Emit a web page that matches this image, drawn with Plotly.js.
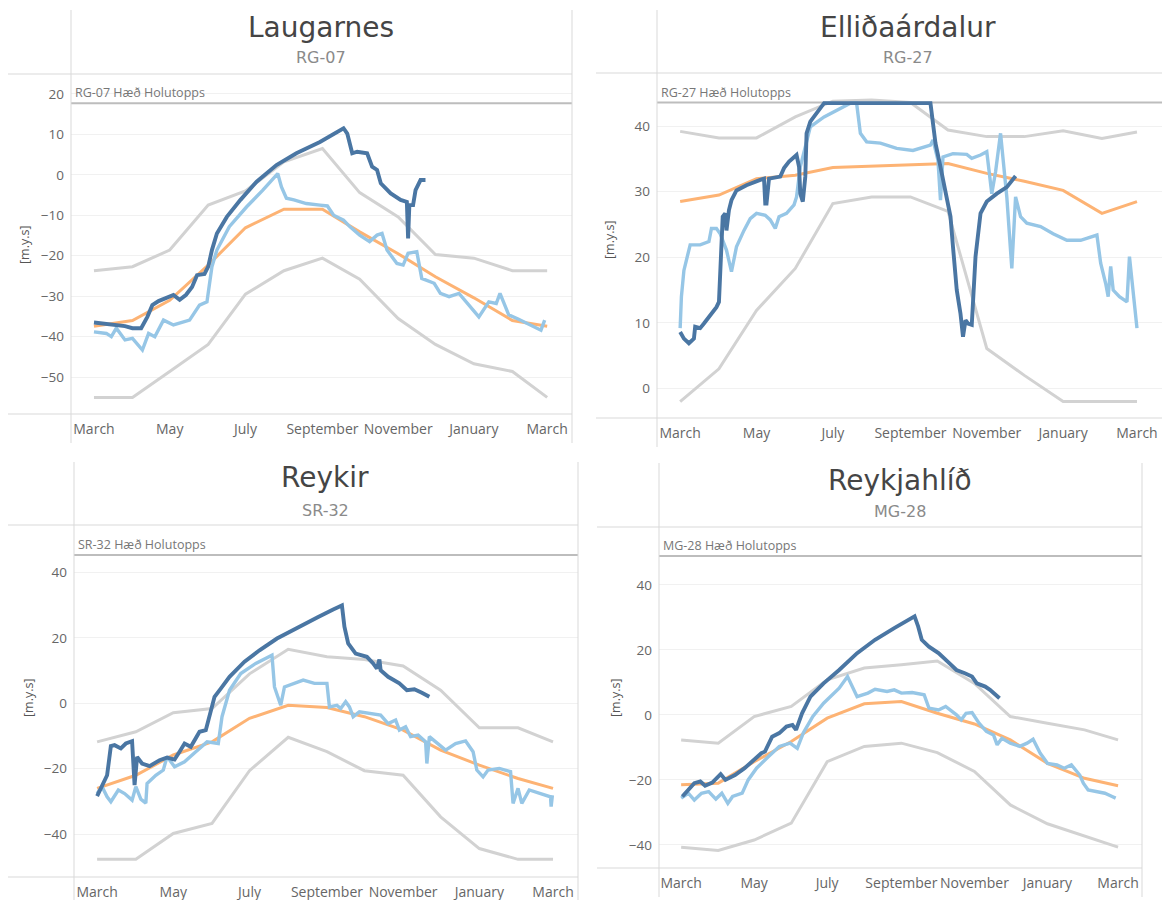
<!DOCTYPE html>
<html>
<head>
<meta charset="utf-8">
<script src="https://cdn.plot.ly/plotly-3.0.1.min.js"></script>
<style>
html,body{margin:0;padding:0;background:#fff;}
#chart{width:1162px;height:900px;}
</style>
</head>
<body>
<div id="chart"></div>
<script>
// ---------- DATA ----------
const stations = ['Laugarnes', 'Elliðaárdalur', 'Reykir', 'Reykjahlíð'];
const wells = ['RG-07', 'RG-27', 'SR-32', 'MG-28'];
const haed = [17.7, 43.6, 45.3, 48.9];           // Hæð Holutopps
const monthDays = [0, 31, 61, 92, 122, 153, 184, 214, 245, 275, 306, 337, 365]; // days since 1 March
const tickDays = [0, 61, 122, 184, 245, 306, 365];
const tickLabels = ['March', 'May', 'July', 'September', 'November', 'January', 'March'];

// Laugarnes RG-07
const max1 = [-23.7, -22.7, -18.6, -7.5, -4, 3.2, 6.5, -4.4, -10.4, -19.7, -20.6, -23.7, -23.7];
const min1 = [-55, -55, -48.6, -41.9, -29.5, -23.7, -20.6, -25.8, -35.5, -41.9, -46.7, -48.6, -55];
const mean1 = [-37.4, -36, -31, -22.3, -13.1, -8.5, -8.5, -14.1, -19.5, -25.2, -30.4, -36, -37.4];
const cur1Days = [0, 13, 25, 31, 38, 43, 47, 52, 59, 64, 69, 74, 79, 83, 89, 92, 95, 99, 107, 118, 131, 147, 163, 182, 201, 204, 208, 212, 220, 224, 228, 231, 239, 247, 252, 253, 254, 257, 259, 263, 267];
const cur1Vals = [-36.5, -36.9, -37.4, -37.9, -37.9, -35.1, -32.2, -31.2, -30.4, -29.7, -30.9, -29.7, -27.7, -24.8, -24.5, -22.7, -18.6, -14.5, -10.4, -6.2, -1.7, 2.4, 5.3, 8.1, 11.5, 10.2, 5.3, 5.7, 5.3, 2.0, 1.2, -2.1, -4.6, -6.2, -6.7, -15.7, -7.5, -7.5, -3.8, -1.3, -1.3];
const prev1Days = [0, 10, 14, 18, 25, 31, 39, 44, 49, 56, 64, 69, 77, 85, 91, 95, 99, 109, 123, 136, 148, 151, 155, 161, 171, 182, 188, 193, 201, 206, 214, 222, 228, 232, 236, 244, 249, 253, 260, 264, 274, 279, 286, 294, 301, 310, 318, 324, 327, 334, 342, 351, 360, 363];
const prev1Vals = [-38.8, -39.2, -40.0, -37.9, -40.8, -40.4, -43.3, -39.2, -40.0, -35.9, -37.1, -36.7, -35.9, -32.2, -31.4, -22.7, -18.6, -12.8, -7.9, -3.8, 0.3, -3.0, -5.8, -6.2, -7.1, -7.5, -7.7, -10.0, -11.2, -12.8, -14.9, -16.5, -14.9, -14.5, -18.6, -21.9, -22.3, -19.4, -19.0, -25.6, -26.8, -29.3, -30.1, -29.3, -31.9, -35.1, -31.4, -31.8, -29.3, -34.6, -35.7, -37.1, -38.4, -35.9];

// Elliðaárdalur RG-27
const max2 = [39.2, 38.2, 38.2, 41.4, 43.8, 44, 43.6, 39.4, 38.4, 38.4, 39.3, 38.1, 39.1];
const min2 = [-2.0, 3.0, 11.9, 18.3, 28.2, 29.2, 29.2, 27, 6.1, 2.0, -2.0, -2.0, -2.0];
const mean2 = [28.5, 29.5, 32.0, 32.5, 33.7, 33.9, 34.2, 34.3, 32.8, 31.6, 30.2, 26.7, 28.5];
const cur2Days = [0, 3, 7, 11, 12, 16, 19, 23, 29, 31, 32.5, 34, 36, 37, 39, 41, 45, 53, 64, 67, 68, 69, 71, 76, 80, 83, 87, 93, 95, 96, 98, 100, 101, 104, 109, 115, 200, 204, 208, 212, 216, 218, 221, 224, 226, 228, 230, 233, 234, 236, 240, 245, 253, 261, 268];
const cur2Vals = [8.6, 7.6, 6.9, 7.6, 9.4, 9.2, 9.9, 10.9, 12.4, 13.2, 20.1, 26.2, 26.7, 24.1, 27.2, 28.7, 30.2, 31.0, 31.8, 32.0, 28.2, 28.2, 32.0, 32.2, 32.3, 33.6, 34.6, 35.6, 33.8, 29.7, 28.5, 32.3, 38.9, 40.7, 42.0, 43.5, 43.5, 37.4, 33.8, 30.2, 26.2, 21.6, 15.0, 11.4, 7.9, 10.4, 9.9, 9.7, 14.0, 20.1, 26.7, 28.5, 29.7, 30.7, 32.4];
const prev2Days = [0, 1, 3, 5, 8, 16, 23, 25, 29, 32, 37, 41, 45, 51, 56, 61, 68, 72, 76, 79, 85, 91, 93, 96, 99, 104, 115, 125, 136, 141, 144, 149, 160, 173, 186, 200, 202, 206, 208, 210, 218, 229, 233, 240, 245, 249, 252, 256, 258, 261, 265, 268, 272, 277, 288, 298, 309, 320, 333, 336, 340, 342, 344, 346, 351, 357, 359, 362, 365];
const prev2Vals = [9.2, 14.0, 18.0, 19.6, 21.9, 21.9, 22.4, 24.4, 24.4, 23.6, 21.1, 17.8, 21.6, 24.1, 25.9, 26.7, 26.4, 25.7, 24.4, 26.2, 26.7, 28.0, 29.2, 33.8, 36.3, 39.9, 41.4, 42.4, 43.5, 43.5, 38.9, 37.6, 37.4, 36.6, 36.3, 37.1, 37.9, 34.8, 28.7, 35.3, 35.8, 35.7, 35.1, 35.6, 36.1, 29.7, 33.0, 38.9, 35.3, 29.2, 18.3, 29.2, 26.2, 25.2, 24.7, 23.6, 22.6, 22.6, 23.4, 19.1, 16.0, 14.0, 18.6, 15.0, 14.0, 13.2, 20.1, 14.0, 9.2];

// Reykir SR-32
const max3 = [-11.8, -8.7, -2.9, -1.6, 9, 16.5, 14.2, 13.4, 11.4, 4.0, -7.5, -7.5, -11.8];
const min3 = [-47.7, -47.7, -39.8, -36.7, -20.6, -10.4, -14.8, -20.6, -22.0, -34.7, -44.4, -47.7, -47.7];
const mean3 = [-26.0, -22.0, -15.8, -11.8, -4.6, -0.6, -1.3, -4.1, -8.2, -14.3, -18.9, -23.0, -26.0];
const cur3Days = [0, 4, 8, 11, 14, 19, 23, 28, 30, 32, 36, 42, 50, 56, 62, 66, 70, 75, 82, 87, 90, 93, 94, 99, 106, 118, 130, 144, 159, 177, 189, 196, 198, 201, 207, 216, 221, 224, 226, 227, 233, 242, 248, 254, 260, 266];
const cur3Vals = [-28.4, -25.5, -22.0, -13.1, -12.8, -13.8, -12.3, -11.6, -25.0, -16.4, -18.4, -19.2, -17.4, -16.6, -17.2, -14.8, -12.3, -13.3, -8.7, -8.2, -3.6, -0.1, 2.0, 4.5, 8.1, 12.7, 16.2, 19.8, 22.9, 26.4, 28.7, 29.9, 23.4, 18.3, 15.2, 14.2, 12.2, 10.6, 13.4, 10.1, 8.1, 6.1, 4.0, 4.3, 3.2, 2.0];
const prev3Days = [0, 4, 8, 11, 17, 22, 28, 31, 35, 39, 40, 47, 53, 56, 62, 70, 79, 88, 97, 100, 106, 115, 127, 140, 142, 147, 150, 159, 165, 174, 184, 186, 192, 195, 199, 202, 205, 210, 218, 227, 233, 239, 242, 247, 251, 257, 263, 264, 266, 273, 279, 287, 295, 301, 304, 309, 313, 322, 331, 333, 337, 340, 346, 355, 363, 363.5, 364.5];
const prev3Vals = [-27.6, -25.5, -28.6, -30.1, -26.5, -27.6, -29.6, -25.5, -29.3, -30.5, -24.5, -22.0, -20.4, -16.3, -19.4, -17.9, -14.8, -11.8, -12.3, -4.1, 4.0, 9.1, 12.2, 14.7, 5.0, -0.6, 5.0, 6.1, 7.1, 6.1, 6.1, -1.1, -0.6, -1.6, 0.5, -1.1, -4.1, -2.6, -3.1, -3.6, -6.2, -5.1, -8.2, -7.2, -10.2, -9.7, -11.8, -18.4, -10.2, -12.3, -14.3, -12.3, -11.5, -14.8, -20.4, -22.5, -20.4, -19.9, -20.9, -30.6, -26.0, -30.6, -26.5, -27.6, -28.6, -31.6, -28.1];

// Reykjahlíð MG-28
const max4 = [-7.7, -8.7, -0.5, 2.6, 10.8, 14.4, 15.4, 16.6, 9.7, -0.5, -2.6, -4.6, -7.7];
const min4 = [-40.7, -41.7, -38.5, -33.3, -14.4, -9.7, -8.7, -11.6, -17.4, -27.7, -33.5, -37.4, -40.7];
const mean4 = [-21.5, -21.0, -14.4, -8.2, -1.0, 3.4, 4.1, 0.5, -2.8, -7.7, -14.9, -19.5, -21.8];
const cur4Days = [1, 5, 11, 16, 20, 26, 33, 37, 45, 53, 60, 67, 70, 76, 82, 88, 93, 96, 101, 108, 119, 132, 147, 162, 178, 195, 198, 201, 207, 215, 224, 230, 237, 243, 247, 254, 258, 266];
const cur4Vals = [-25.1, -23.6, -21.0, -20.5, -21.8, -20.8, -18.2, -20.0, -18.5, -16.4, -14.1, -11.8, -11.3, -6.7, -5.6, -3.6, -3.1, -4.6, 0.5, 5.6, 9.7, 13.8, 19.0, 23.1, 26.7, 30.3, 27.2, 23.1, 21.0, 19.0, 15.9, 13.8, 12.8, 11.8, 9.7, 8.7, 7.7, 5.1];
const prev4Days = [0, 6, 11, 17, 23, 29, 34, 39, 43, 51, 56, 63, 73, 82, 91, 97, 102, 110, 119, 132, 139, 144, 147, 156, 162, 172, 178, 184, 193, 203, 207, 215, 221, 230, 234, 238, 243, 249, 255, 261, 264, 268, 275, 283, 289, 294, 300, 306, 314, 320, 326, 333, 336, 340, 348, 354, 360, 363];
const prev4Vals = [-25.6, -24.1, -26.2, -24.1, -23.6, -25.9, -24.1, -27.2, -25.1, -24.1, -20.0, -16.4, -12.8, -9.7, -8.7, -10.3, -5.6, -0.5, 3.6, 8.2, 11.8, 7.7, 5.6, 6.7, 7.9, 7.2, 7.7, 6.7, 6.9, 6.2, 2.1, 1.5, 2.6, 0, -1.5, 0.5, 0.7, -2.6, -5.1, -6.2, -9.2, -7.2, -8.7, -9.7, -8.7, -7.5, -11.8, -14.9, -15.4, -16.4, -15.4, -18.5, -21.0, -23.1, -23.6, -24.1, -25.1, -25.6];

// ---------- LAYOUT GEOMETRY (pixels) ----------
const W = 1162, H = 900;
const panels = [
  {l: 71, r: 572, t: 74, b: 414, yr: [-59.1, 24.9], dt: 10, title: [321, 28], sub: [321, 58], yt: [25, 245], vTop: 10, vBot: 443, divL: 8, divR: 572, rightLine: true},
  {l: 657, r: 1162, t: 73, b: 418, yr: [-4.5, 48.1], dt: 10, title: [908, 27], sub: [908, 58], yt: [610, 240], vTop: 10, vBot: 447, divL: 596, divR: 1162, rightLine: false},
  {l: 74, r: 578, t: 525, b: 877, yr: [-53.1, 54.5], dt: 20, title: [325, 477], sub: [325, 510], yt: [28, 698], vTop: 462, vBot: 900, divL: 8, divR: 578, rightLine: true},
  {l: 659, r: 1142, t: 527, b: 868, yr: [-47.1, 57.8], dt: 20, title: [900, 480], sub: [900, 511], yt: [615, 698], vTop: 463, vBot: 897, divL: 597, divR: 1142, rightLine: true}
];
const series = [
  {max: max1, min: min1, mean: mean1, cd: cur1Days, cv: cur1Vals, pd: prev1Days, pv: prev1Vals},
  {max: max2, min: min2, mean: mean2, cd: cur2Days, cv: cur2Vals, pd: prev2Days, pv: prev2Vals},
  {max: max3, min: min3, mean: mean3, cd: cur3Days, cv: cur3Vals, pd: prev3Days, pv: prev3Vals},
  {max: max4, min: min4, mean: mean4, cd: cur4Days, cv: cur4Vals, pd: prev4Days, pv: prev4Vals}
];

const FONT = '"Open Sans", "DejaVu Sans", sans-serif';
const TFONT = '"DejaVu Sans", "Open Sans", sans-serif';
const GRAY = '#d2d2d2', ORANGE = '#fdb374', LIGHT = '#96c6e6', DARK = '#4a76a3';
const px = x => x / W;
const py = y => 1 - y / H;

const traces = [];
const layout = {
  width: W, height: H,
  margin: {l: 0, r: 0, t: 0, b: 0},
  paper_bgcolor: '#ffffff', plot_bgcolor: 'rgba(0,0,0,0)',
  showlegend: false,
  font: {family: FONT, color: '#666'},
  shapes: [], annotations: []
};
const frameLine = {color: '#d9d9d9', width: 1};

panels.forEach((p, i) => {
  const n = i === 0 ? '' : String(i + 1);
  const xa = 'x' + n, ya = 'y' + n;
  const s = series[i];
  const lineTrace = (x, y, color, width) => ({
    type: 'scatter', mode: 'lines', x: x, y: y, xaxis: xa, yaxis: ya,
    line: {color: color, width: width, shape: 'linear'}, hoverinfo: 'skip'
  });
  traces.push(lineTrace(monthDays, s.max, GRAY, 3));
  traces.push(lineTrace(monthDays, s.min, GRAY, 3));
  traces.push(lineTrace(monthDays, s.mean, ORANGE, 3));
  traces.push(lineTrace(s.pd, s.pv, LIGHT, 3.4));
  traces.push(lineTrace(s.cd, s.cv, DARK, 3.9));

  layout['xaxis' + n] = {
    domain: [px(p.l), px(p.r)], anchor: ya, range: [-18.5, 385],
    tickvals: tickDays, ticktext: tickLabels, showgrid: false, zeroline: false,
    showline: false, ticks: '', ticklabelstandoff: 5,
    tickfont: {family: FONT, size: 14, color: '#666'}, fixedrange: true
  };
  layout['yaxis' + n] = {
    domain: [py(p.b), py(p.t)], anchor: xa, range: p.yr, dtick: p.dt, tick0: 0,
    showgrid: true, gridcolor: '#f1f1f1', gridwidth: 1, zeroline: false,
    showline: false, ticks: '', ticklabelstandoff: 6,
    tickfont: {family: FONT, size: 13.5, color: '#666'}, fixedrange: true
  };

  // reference line: Hæð Holutopps
  layout.shapes.push({type: 'line', xref: xa + ' domain', yref: ya, x0: 0, x1: 1, y0: haed[i], y1: haed[i],
    line: {color: '#bdbdbd', width: 2}, layer: 'below'});
  layout.annotations.push({xref: xa + ' domain', yref: ya, x: 0, y: haed[i], xanchor: 'left', yanchor: 'bottom',
    xshift: 2, yshift: 0, showarrow: false, text: wells[i] + ' Hæð Holutopps',
    font: {family: FONT, size: 12.5, color: '#777'}});

  // frame lines
  layout.shapes.push({type: 'line', xref: 'paper', yref: 'paper', x0: px(p.divL), x1: px(p.divR), y0: py(p.t), y1: py(p.t), line: frameLine});
  layout.shapes.push({type: 'line', xref: 'paper', yref: 'paper', x0: px(p.divL), x1: px(p.divR), y0: py(p.b), y1: py(p.b), line: frameLine});
  layout.shapes.push({type: 'line', xref: 'paper', yref: 'paper', x0: px(p.l), x1: px(p.l), y0: py(p.vTop), y1: py(p.vBot), line: frameLine});
  if (p.rightLine) {
    layout.shapes.push({type: 'line', xref: 'paper', yref: 'paper', x0: px(p.r), x1: px(p.r), y0: py(p.vTop), y1: py(p.vBot), line: frameLine});
  }

  // titles
  layout.annotations.push({xref: 'paper', yref: 'paper', x: px(p.title[0]), y: py(p.title[1]), xanchor: 'center', yanchor: 'middle',
    showarrow: false, text: stations[i], font: {family: TFONT, size: 28, color: '#454545'}});
  layout.annotations.push({xref: 'paper', yref: 'paper', x: px(p.sub[0]), y: py(p.sub[1]), xanchor: 'center', yanchor: 'middle',
    showarrow: false, text: wells[i], font: {family: TFONT, size: 16, color: '#8a8a8a'}});
  layout.annotations.push({xref: 'paper', yref: 'paper', x: px(p.yt[0]), y: py(p.yt[1]), xanchor: 'center', yanchor: 'middle',
    showarrow: false, textangle: -90, text: '[m.y.s]', font: {family: FONT, size: 12.5, color: '#555'}});
});

Plotly.newPlot('chart', traces, layout, {displayModeBar: false, staticPlot: true});
</script>
</body>
</html>
